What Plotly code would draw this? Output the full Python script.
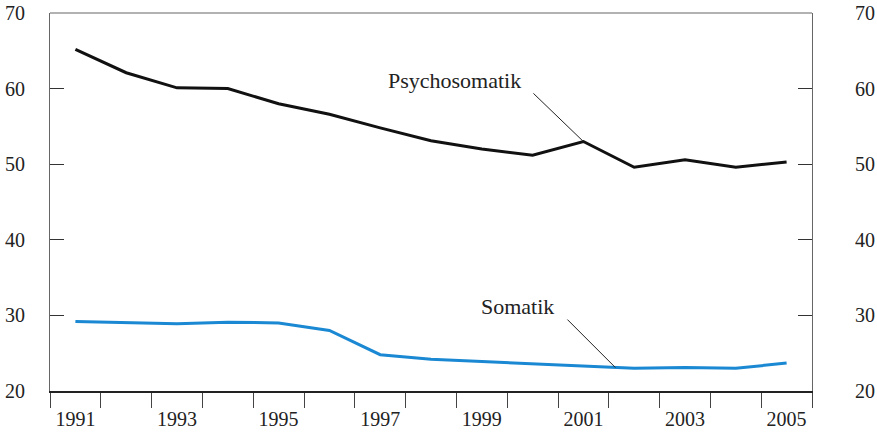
import plotly.graph_objects as go

years = list(range(1991, 2006))
psychosomatik = [65.2, 62.1, 60.1, 60.0, 58.0, 56.6, 54.8, 53.1, 52.0, 51.2, 53.0, 49.6, 50.6, 49.6, 50.3]
somatik = [29.2, 29.0, 28.9, 29.1, 29.0, 28.0, 24.8, 24.2, 23.9, 23.6, 23.3, 23.0, 23.1, 23.0, 23.7]
y_ticks = [20, 30, 40, 50, 60, 70]
x_labels = [1991, 1993, 1995, 1997, 1999, 2001, 2003, 2005]

FONT = "Liberation Serif, Times New Roman, serif"
fig = go.Figure()
fig.add_trace(go.Scatter(x=years, y=psychosomatik, mode="lines",
                         line=dict(color="#111111", width=3), showlegend=False))
fig.add_trace(go.Scatter(x=years, y=somatik, mode="lines",
                         line=dict(color="#1a88d2", width=3), showlegend=False, yaxis="y2"))

fig.update_layout(
    width=877, height=435,
    margin=dict(l=50, r=65, t=13, b=44),
    plot_bgcolor="white", paper_bgcolor="white",
    font=dict(family=FONT, size=20, color="#222222"),
    xaxis=dict(range=[1990.5, 2005.5], tickvals=x_labels, ticktext=[str(v) for v in x_labels],
               ticks="", showgrid=False, zeroline=False, showline=True, linecolor="#222222",
               linewidth=1.5, ticklabelstandoff=9, automargin=False,
               minor=dict(tick0=1990.5, dtick=1, ticks="outside", ticklen=15,
                          tickcolor="#444444", tickwidth=1.2, showgrid=False)),
    yaxis=dict(range=[20, 70], tickvals=y_ticks, ticks="inside", ticklen=14,
               tickcolor="#333333", showgrid=False, zeroline=False, showline=True,
               linecolor="#666666", linewidth=1.2, ticklabelstandoff=20, automargin=False),
    yaxis2=dict(range=[20, 70], tickvals=y_ticks, ticks="inside", ticklen=14,
                tickcolor="#333333", showgrid=False, zeroline=False, showline=True,
                linecolor="#666666", linewidth=1.2, overlaying="y", side="right",
                ticklabelstandoff=38, automargin=False),
    shapes=[dict(type="line", xref="paper", yref="paper", x0=0, x1=1, y0=1, y1=1,
                 line=dict(color="#666666", width=1.2))],
)

fig.add_annotation(x=1998.47, y=61.1, text="Psychosomatik", showarrow=False,
                   font=dict(size=22, family=FONT, color="#222222"))
fig.add_annotation(x=2001, y=psychosomatik[10], text=" ", showarrow=True, arrowhead=0,
                   arrowwidth=1, arrowcolor="#222222", ax=-54, ay=-52, axref="pixel", ayref="pixel")
fig.add_annotation(x=1999.7, y=31.2, text="Somatik", showarrow=False,
                   font=dict(size=22, family=FONT, color="#222222"))
fig.add_annotation(x=2001.63, y=23.1, text=" ", showarrow=True, arrowhead=0,
                   arrowwidth=1, arrowcolor="#222222", ax=-52, ay=-52, axref="pixel", ayref="pixel")

fig.write_html("out.html", config={"displayModeBar": False},
               post_script="document.body.style.margin='0';document.body.style.overflow='hidden';")
